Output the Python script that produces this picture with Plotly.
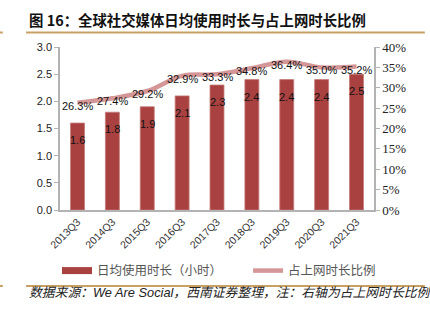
import plotly.graph_objects as go

# Quarterly data: average daily social media time (hours) and its share of total online time
quarters = ["2013Q3", "2014Q3", "2015Q3", "2016Q3", "2017Q3",
            "2018Q3", "2019Q3", "2020Q3", "2021Q3"]
daily_hours = [1.6, 1.8, 1.9, 2.1, 2.3, 2.4, 2.4, 2.4, 2.5]
online_share = [0.263, 0.274, 0.292, 0.329, 0.333, 0.348, 0.364, 0.350, 0.352]

bar_name = "日均使用时长（小时）"
line_name = "占上网时长比例"
title_text = "<b>图 16：全球社交媒体日均使用时长与占上网时长比例</b>"
source_text = "<i>数据来源：We Are Social，西南证券整理，注：右轴为占上网时长比例</i>"

BAR_COLOR = "#a8413f"
LINE_COLOR = "#d49696"
GOLD = "#c9a063"
AXIS_GRAY = "#b3b3b3"
SANS = "Liberation Sans, Arial, Noto Sans CJK SC"
CJK = "Noto Sans CJK SC, Liberation Sans"

fig = go.Figure()

# Legend-only entry for the bars, drawn as a wide flat swatch
fig.add_trace(go.Scatter(x=[None], y=[None], mode="lines", name=bar_name,
                         line=dict(color=BAR_COLOR, width=7), showlegend=True,
                         legend="legend", hoverinfo="skip"))

fig.add_trace(go.Bar(x=quarters, y=daily_hours, name=bar_name, width=0.4,
                     marker=dict(color=BAR_COLOR, line=dict(color="#c47a78", width=0.8)),
                     showlegend=False, yaxis="y"))

fig.add_trace(go.Scatter(x=quarters, y=online_share, name=line_name, mode="lines",
                         line=dict(color=LINE_COLOR, width=4.5, shape="spline", smoothing=1),
                         yaxis="y2", showlegend=True, legend="legend2"))

annotations = []
# Bar value labels, just below the top of each bar
for q, v in zip(quarters, daily_hours):
    annotations.append(dict(x=q, y=v, xref="x", yref="y", text=f"{v:.1f}",
                            showarrow=False, yshift=-17, yanchor="middle",
                            font=dict(family=SANS, size=11, color="#111")))
# Percentage labels centred on the line
for q, v in zip(quarters, online_share):
    annotations.append(dict(x=q, y=v, xref="x", yref="y2", text=f"{v * 100:.1f}%",
                            showarrow=False, yshift=-3, yanchor="middle",
                            font=dict(family=SANS, size=11, color="#111")))
# Title and source note
annotations.append(dict(x=-0.105, y=1.166, xref="paper", yref="paper", text=title_text,
                        showarrow=False, xanchor="left", yanchor="middle",
                        font=dict(family=CJK, size=14.4, color="#111")))
annotations.append(dict(x=-0.105, y=-0.506, xref="paper", yref="paper", text=source_text,
                        showarrow=False, xanchor="left", yanchor="middle",
                        font=dict(family=SANS, size=12.8, color="#222")))

shapes = []
for yy in (1.089, -0.466):
    shapes.append(dict(type="line", xref="paper", yref="paper", x0=-0.108, x1=1.162,
                       y0=yy, y1=yy, line=dict(color=GOLD, width=2)))
    shapes.append(dict(type="line", xref="paper", yref="paper", x0=-0.192, x1=-0.182,
                       y0=yy, y1=yy, line=dict(color=GOLD, width=2)))

legend_common = dict(orientation="h", yanchor="middle", y=-0.374, xanchor="left",
                     bgcolor="rgba(0,0,0,0)", itemwidth=30,
                     font=dict(family=CJK, size=12.5, color="#555"))

fig.update_layout(
    width=430, height=323,
    margin=dict(l=60, r=56, t=47, b=113),
    paper_bgcolor="white", plot_bgcolor="white",
    bargap=0.6,
    xaxis=dict(type="category", showline=True, linecolor=AXIS_GRAY, linewidth=1.5,
               ticks="", tickangle=-45, showgrid=False,
               tickfont=dict(family=SANS, size=10.5, color="#333")),
    yaxis=dict(range=[0, 3], dtick=0.5, tickformat=".1f", showgrid=False,
               showline=True, linecolor=AXIS_GRAY, linewidth=1.5,
               ticks="outside", ticklen=4, tickcolor=AXIS_GRAY, zeroline=False,
               tickfont=dict(family=SANS, size=11, color="#222")),
    yaxis2=dict(range=[0, 0.4], dtick=0.05, tickformat=".0%", overlaying="y", side="right",
                showgrid=False, showline=True, linecolor=AXIS_GRAY, linewidth=1.5,
                ticks="outside", ticklen=4, tickcolor=AXIS_GRAY, zeroline=False,
                tickfont=dict(family="Liberation Serif, Times New Roman", size=13, color="#222")),
    legend=dict(x=-0.0096, **legend_common),
    legend2=dict(x=0.599, **legend_common),
    annotations=annotations,
    shapes=shapes,
    showlegend=True,
)

fig.write_html("out.html")
